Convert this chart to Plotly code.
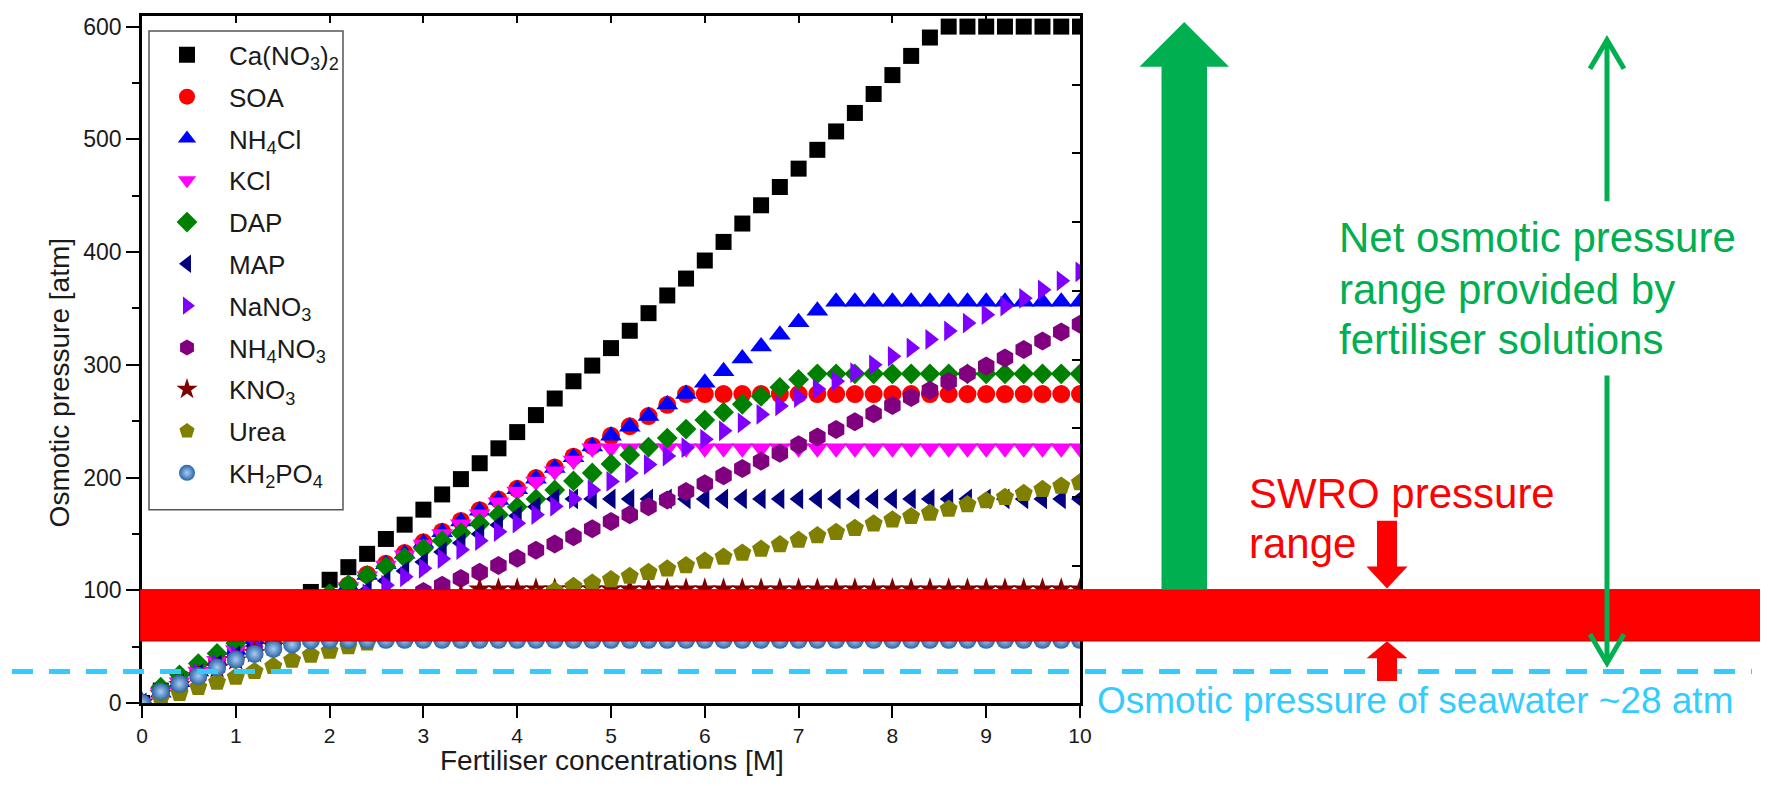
import plotly.graph_objects as go

# ---------------- data ----------------
CONC = [0.0, 0.2, 0.4, 0.6, 0.8, 1.0, 1.2, 1.4, 1.6, 1.8,
        2.0, 2.2, 2.4, 2.6, 2.8, 3.0, 3.2, 3.4, 3.6, 3.8,
        4.0, 4.2, 4.4, 4.6, 4.8, 5.0, 5.2, 5.4, 5.6, 5.8,
        6.0, 6.2, 6.4, 6.6, 6.8, 7.0, 7.2, 7.4, 7.6, 7.8,
        8.0, 8.2, 8.4, 8.6, 8.8, 9.0, 9.2, 9.4, 9.6, 9.8, 10.0]

CA_NO3_2 = [0, 11, 21, 30, 39, 48, 57, 67.5, 78, 98.5,
            109.3, 120.5, 132.3, 145.5, 158.2, 171.5, 185, 198.6, 212.7, 225.9,
            240.3, 255.4, 270.1, 285.4, 299.3, 314.8, 330.2, 345.8, 361.5, 376.5,
            392.5, 409, 425.3, 441.5, 457.7, 474, 490.7, 507, 523.4, 540.2,
            557, 574, 590.3, 600, 600, 600, 600, 600, 600, 600, 600]

SOA = [0, 9.5, 19, 28.5, 38, 47.5, 57, 66.5, 76, 85.5,
       95, 104.5, 114, 123.5, 133, 142.5, 152, 161.5, 171, 180.5,
       190, 199.5, 209, 218.5, 228, 237, 245.5, 254.5, 264.5, 274,
       274, 274, 274, 274, 274, 274, 274, 274, 274, 274,
       274, 274, 274, 274, 274, 274, 274, 274, 274, 274, 274]

NH4CL = [0, 9, 18.5, 28, 37.5, 47, 56.5, 66, 75.5, 85,
         94.5, 104, 113.5, 123, 132.5, 142, 151.5, 161, 170.5, 180,
         189.5, 199, 208.5, 218, 227.5, 237, 245, 254.5, 264.8, 274,
         284, 294.2, 305.5, 316.3, 326.7, 337.8, 348, 356, 356, 356,
         356, 356, 356, 356, 356, 356, 356, 356, 356, 356, 356]

KCL = [0, 9, 18.5, 28, 37.5, 47, 56, 65.5, 75, 84.5,
       94, 103, 112.5, 122, 131, 140.5, 150, 158.5, 167.5, 178,
       187.5, 196.5, 205.5, 215, 226, 226, 226, 226, 226, 226,
       226, 226, 226, 226, 226, 226, 226, 226, 226, 226,
       226, 226, 226, 226, 226, 226, 226, 226, 226, 226, 226]

DAP = [0, 14, 25, 35, 44, 53, 61, 70, 79, 88,
       97, 105, 113, 121, 129, 137, 144, 151, 159, 167,
       174, 181, 189, 197, 204, 212, 220, 227, 235, 243,
       251, 258, 265, 272, 280, 287, 292, 292, 292, 292,
       292, 292, 292, 292, 292, 292, 292, 292, 292, 292, 292]

MAP = [0, 9, 17, 25.5, 34, 42, 50.5, 59, 67, 75.5,
       84, 92, 100, 108.5, 117, 125, 134, 142, 150, 158,
       166, 174, 181, 181, 181, 181, 181, 181, 181, 181,
       181, 181, 181, 181, 181, 181, 181, 181, 181, 181,
       181, 181, 181, 181, 181, 181, 181, 181, 181, 181, 181]

NANO3 = [0, 8.5, 17, 25.5, 34, 42, 50, 58, 66, 74,
         82, 89.5, 97, 104.5, 112, 119.5, 128, 136, 144, 152,
         159.5, 167, 174.5, 181, 189, 196.5, 204, 211.5, 219, 226.5,
         234, 241.5, 248.5, 256, 263.5, 271, 278.5, 285.5, 293, 300,
         307.5, 315, 322.5, 330, 337, 344.5, 352, 359, 366.5, 374.5, 382.5]

NH4NO3 = [0, 8, 16, 24, 31.5, 38.5, 45, 51, 57, 63,
          69, 75, 81, 87, 93, 99, 104.5, 110.5, 116, 122,
          128.5, 135.5, 141, 147.5, 154.5, 161, 167, 174, 180, 187.5,
          194.5, 201.5, 208, 214.5, 221.5, 229, 236, 242.5, 249.5, 256.5,
          264, 271, 277.5, 285, 292, 299, 306, 313.5, 321, 329, 336]

KNO3 = [0, 8, 16, 24, 31, 38, 44.5, 50.5, 56, 61,
        66, 71, 75.5, 80, 84, 88, 92, 96, 101, 101,
        101, 101, 101, 101, 101, 101, 101, 101, 101, 101,
        101, 101, 101, 101, 101, 101, 101, 101, 101, 101,
        101, 101, 101, 101, 101, 101, 101, 101, 101, 101, 101]

UREA = [0, 4, 8.5, 14, 18.5, 23, 28, 32.5, 38, 42.5,
        46, 50, 53.5, 57.5, 62, 66.5, 71, 75.5, 80, 84.5,
        89, 94, 99.5, 103.5, 106.5, 109.5, 112.5, 116, 119, 122,
        126, 129.5, 133, 136.5, 140.5, 144.5, 148.5, 151.5, 155, 159,
        162.5, 165.5, 168.5, 172, 176, 179.5, 182.5, 186, 189.5, 192.5, 195.5]

KH2PO4 = [0, 10, 17, 24, 31.5, 38.5, 43.5, 48, 52, 55.5,
          56, 56, 56, 56, 56, 56, 56, 56, 56, 56,
          56, 56, 56, 56, 56, 56, 56, 56, 56, 56,
          56, 56, 56, 56, 56, 56, 56, 56, 56, 56,
          56, 56, 56, 56, 56, 56, 56, 56, 56, 56, 56]

SERIES_NAMES = ["Ca(NO<sub>3</sub>)<sub>2</sub>", "SOA", "NH<sub>4</sub>Cl", "KCl", "DAP", "MAP",
                "NaNO<sub>3</sub>", "NH<sub>4</sub>NO<sub>3</sub>", "KNO<sub>3</sub>", "Urea",
                "KH<sub>2</sub>PO<sub>4</sub>"]
SERIES_VALUES = [CA_NO3_2, SOA, NH4CL, KCL, DAP, MAP, NANO3, NH4NO3, KNO3, UREA, KH2PO4]

SWRO_RANGE = [55, 100.5]        # atm
SEAWATER_PRESSURE = 28          # atm
Y_MAX = 609.4

# ---------------- styles ----------------
STYLES = [
    dict(symbol="square", color="#000000", size=16),
    dict(symbol="circle", color="#ff0000", size=18),
    dict(symbol="triangle-up", color="#0000ff", size=19),
    dict(symbol="triangle-down", color="#ff00ff", size=19),
    dict(symbol="diamond", color="#008000", size=16),
    dict(symbol="triangle-left", color="#000080", size=18),
    dict(symbol="triangle-right", color="#8000ff", size=18),
    dict(symbol="hexagon", color="#800080", size=19),
    dict(symbol="star", color="#800000", size=17),
    dict(symbol="pentagon", color="#808000", size=19),
    dict(symbol="circle", color="#2a64a8", size=18),
]

GREEN = "#00b050"
RED = "#ff0000"
CYAN = "#33ccff"
FONT = "Liberation Sans, Arial, Helvetica, sans-serif"

# target plot area in screenshot pixels; the page adds an 8 px body margin
OFF = 8
L, R, T, B = 142, 1080, 13, 703
W, H = 1768 - OFF, 786 - OFF


def PX(px):
    return (px - L) / (R - L)


def PY(py):
    return (B - py) / (B - T)


def VY(v):
    return v / Y_MAX


fig = go.Figure()

for name, vals, st in zip(SERIES_NAMES, SERIES_VALUES, STYLES):
    marker = dict(symbol=st["symbol"], color=st["color"], size=st["size"], line=dict(width=0))
    if name.startswith("KH"):
        marker["gradient"] = dict(type="radial", color="#a9cdf0")
    fig.add_trace(go.Scatter(x=CONC, y=vals, mode="markers", name=name,
                             legendgroup=name, marker=marker))

# invisible trace for the mirrored (top/right) tick axes
fig.add_trace(go.Scatter(x=[None], y=[None], xaxis="x2", yaxis="y2",
                         showlegend=False, hoverinfo="skip"))

shapes = []
# legend frame
shapes.append(dict(type="rect", xref="paper", yref="paper",
                   x0=PX(149), x1=PX(343), y0=PY(509), y1=PY(28),
                   fillcolor="white", line=dict(color="#555555", width=1.5), layer="below"))
# SWRO band
shapes.append(dict(type="rect", xref="paper", yref="paper",
                   x0=PX(140), x1=PX(1775), y0=VY(SWRO_RANGE[0]), y1=VY(SWRO_RANGE[1]),
                   fillcolor=RED, line=dict(color="#b00000", width=1), layer="above"))
# seawater dashed line
shapes.append(dict(type="line", xref="paper", yref="paper",
                   x0=PX(12), x1=PX(1752), y0=VY(SEAWATER_PRESSURE), y1=VY(SEAWATER_PRESSURE),
                   line=dict(color=CYAN, width=5, dash="21px,16px"), layer="above"))


def poly(points):
    return "M " + " L ".join(f"{PX(x):.5f},{PY(y):.5f}" for x, y in points)


# thick green arrow
shapes.append(dict(type="path", xref="paper", yref="paper",
                   path=poly([(1161.5, 589), (1161.5, 64), (1139.5, 64), (1184.2, 19),
                              (1229, 64), (1207, 64), (1207, 589)]) + " Z",
                   fillcolor=GREEN, line=dict(width=0), layer="above"))
# red arrows
shapes.append(dict(type="path", xref="paper", yref="paper",
                   path=poly([(1377, 520), (1377, 566), (1366.5, 566), (1387, 588),
                              (1407.5, 566), (1397, 566), (1397, 520)]) + " Z",
                   fillcolor=RED, line=dict(width=0), layer="above"))
shapes.append(dict(type="path", xref="paper", yref="paper",
                   path=poly([(1377, 681), (1377, 658), (1366.5, 658), (1387, 641),
                              (1407.5, 658), (1397, 658), (1397, 681)]) + " Z",
                   fillcolor=RED, line=dict(width=0), layer="above"))
# thin green double arrow
for pts in ([(1607, 199), (1607, 37)], [(1590, 66), (1607, 37), (1624, 66)],
            [(1607, 374), (1607, 663)], [(1590, 634), (1607, 663), (1624, 634)]):
    shapes.append(dict(type="path", xref="paper", yref="paper", path=poly(pts),
                       line=dict(color=GREEN, width=5), layer="above"))

annotations = []


def text(s, x, y, size, color, xanchor="left", angle=0):
    annotations.append(dict(text=s, x=PX(x), y=PY(y), xref="paper", yref="paper",
                            xanchor=xanchor, yanchor="middle", showarrow=False,
                            textangle=angle, font=dict(family=FONT, size=size, color=color)))


text("Net osmotic pressure", 1337, 235, 42, GREEN)
text("range provided by", 1337, 287.5, 42, GREEN)
text("fertiliser solutions", 1337, 337.5, 42, GREEN)
text("SWRO pressure", 1246.5, 492.5, 42, RED)
text("range", 1246.5, 542.5, 42, RED)
text("Osmotic pressure of seawater ~28 atm", 1095, 700, 37, CYAN)
text("Fertiliser concentrations [M]", 611.5, 761, 28, "#1a1a1a", xanchor="center")
text("Osmotic pressure [atm]", 59, 382, 28, "#1a1a1a", xanchor="center", angle=-90)

axis_common = dict(showgrid=False, zeroline=False, linecolor="black", linewidth=2.5,
                   tickcolor="black", tickwidth=2)

fig.update_layout(
    width=W, height=H,
    margin=dict(l=L - OFF, r=W - (R - OFF), t=T - OFF, b=H - (B - OFF), pad=0),
    paper_bgcolor="white", plot_bgcolor="white",
    font=dict(family=FONT, color="#1a1a1a"),
    xaxis=dict(range=[0, 10], dtick=1, tick0=0, ticks="outside", ticklen=12,
               showline=True, mirror=True, tickfont=dict(size=21, color="#1a1a1a"),
               **axis_common),
    yaxis=dict(range=[0, Y_MAX], dtick=100, tick0=0, ticks="outside", ticklen=13,
               showline=True, mirror=True, tickfont=dict(size=23, color="#1a1a1a"),
               minor=dict(ticks="outside", ticklen=7, dtick=50, tickwidth=2, tickcolor="black"),
               **axis_common),
    xaxis2=dict(overlaying="x", side="top", anchor="y", range=[0, 10], dtick=1, tick0=0,
                ticks="inside", ticklen=7, showticklabels=False, showline=False,
                showgrid=False, zeroline=False, tickcolor="black", tickwidth=2),
    yaxis2=dict(overlaying="y", side="right", anchor="x", range=[0, Y_MAX], dtick=Y_MAX / 10,
                tick0=0, ticks="inside", ticklen=8, showticklabels=False, showline=False,
                showgrid=False, zeroline=False, tickcolor="black", tickwidth=2),
    legend=dict(x=PX(145), y=PY(28.5), xanchor="left", yanchor="top",
                bgcolor="rgba(0,0,0,0)", borderwidth=0,
                font=dict(family=FONT, size=26, color="#1a1a1a"),
                tracegroupgap=5, itemwidth=74),
    shapes=shapes,
    annotations=annotations,
    showlegend=True,
)

fig.write_html("out.html")
